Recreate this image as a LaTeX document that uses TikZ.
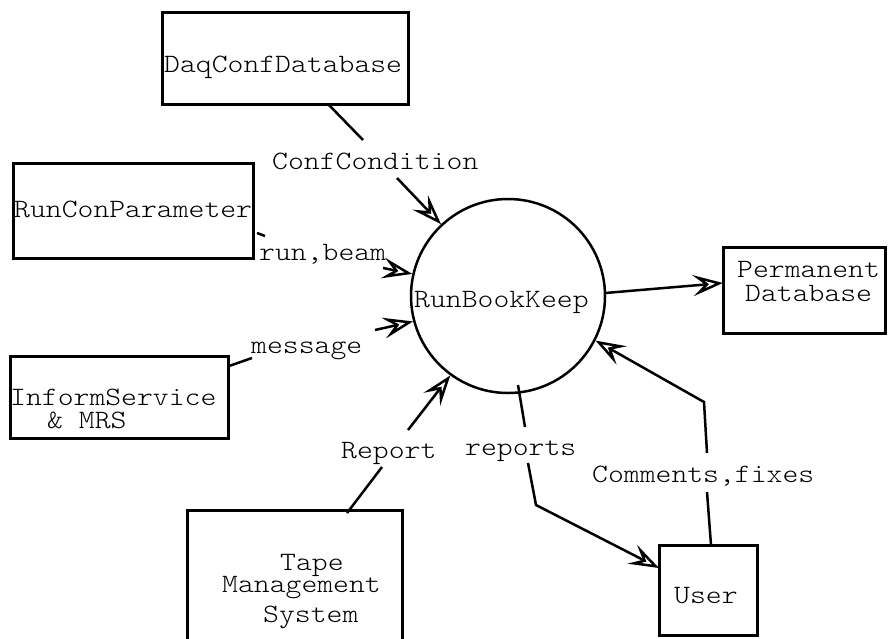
\documentclass[tikz,border=0pt]{standalone}
\usepackage{fontspec}
\setmonofont{Latin Modern Mono Light}[FakeStretch=1.14]
\usetikzlibrary{arrows.meta}
\begin{document}
\begin{tikzpicture}[x=1pt,y=-1pt,
  txt/.style={font=\ttfamily\fontsize{26.5}{28}\selectfont,inner sep=0pt,anchor=base west},
  boxline/.style={draw,line width=3pt},
  flow/.style={line width=2.5pt},
  flowarrow/.style={flow,-{Stealth[open,length=30pt,width=21pt,inset=12pt,line width=2.5pt]}}]
\useasboundingbox (0,0) rectangle (888,638);

% external entities
\draw[boxline] (162,12) rectangle (408,104);
\draw[boxline] (13,163) rectangle (253,258);
\draw[boxline] (10,356) rectangle (228,438);
\draw[boxline] (187,510) rectangle (402,660);
\draw[boxline] (723,247) rectangle (885,333);
\draw[boxline] (659,545) rectangle (757,635);

% process
\node[draw,circle,line width=2.5pt,minimum size=194pt,inner sep=0pt] (bk) at (508,296) {};

% texts
\node[txt] (tdaq) at (164,72) {DaqConfDatabase};
\node[txt] (trun) at (14,217) {RunConParameter};
\node[txt] (tinf1) at (10,405) {InformService};
\node[txt] (tinf2) at (47,428) {\& MRS};
\node[txt] (ttape1) at (280,570) {Tape};
\node[txt] (ttape2) at (222,592) {Management};
\node[txt] (ttape3) at (263,622) {System};
\node[txt] (tperm1) at (737,277) {Permanent};
\node[txt] (tperm2) at (745,301) {Database};
\node[txt] (tuser) at (674,603) {User};
\node[txt] (tbk) at (414,307) {RunBookKeep};

% flow labels
\node[txt] (lconf) at (272,169) {ConfCondition};
\node[txt] (lrun) at (259,260) {run,beam};
\node[txt] (lmsg) at (251,353) {message};
\node[txt] (lrep) at (341,458) {Report};
\node[txt] (lreps) at (465,455) {reports};
\node[txt] (lcom) at (592,482) {Comments,fixes};

% connector end points
\coordinate (d1) at (328,104);
\coordinate (d2) at (363,140);
\coordinate (d3) at (397,178);
\coordinate (r1) at (257,233);
\coordinate (r2) at (265,236);
\coordinate (r3) at (383,268);
\coordinate (m1) at (229,366);
\coordinate (m2) at (252,358);
\coordinate (m3) at (375,330);
\coordinate (t1) at (347,513);
\coordinate (t2) at (382,467);
\coordinate (t3) at (408,430);
\coordinate (p0) at (605,293);
\coordinate (p1) at (723,283);
\coordinate (s0) at (518,385);
\coordinate (s1) at (525,427);
\coordinate (s2) at (528,463);
\coordinate (s3) at (536,505);
\coordinate (s4) at (659,568);
\coordinate (u0) at (711,545);
\coordinate (u1) at (707,492);
\coordinate (u2) at (707,453);
\coordinate (u3) at (704,402);

% flows
\draw[flow] (d1) -- (d2);
\draw[flowarrow] (d3) -- (bk.133);
\draw[flow] (r1) -- (r2);
\draw[flowarrow] (r3) -- (bk.167);
\draw[flow] (m1) -- (m2);
\draw[flowarrow] (m3) -- (bk.195);
\draw[flow] (t1) -- (t2);
\draw[flowarrow] (t3) -- (bk.234);
\draw[flowarrow] (p0) -- (p1);
\draw[flow] (s0) -- (s1);
\draw[flowarrow] (s2) -- (s3) -- (s4);
\draw[flow] (u0) -- (u1);
\draw[flowarrow] (u2) -- (u3) -- (bk.-27);
\end{tikzpicture}
\end{document}
